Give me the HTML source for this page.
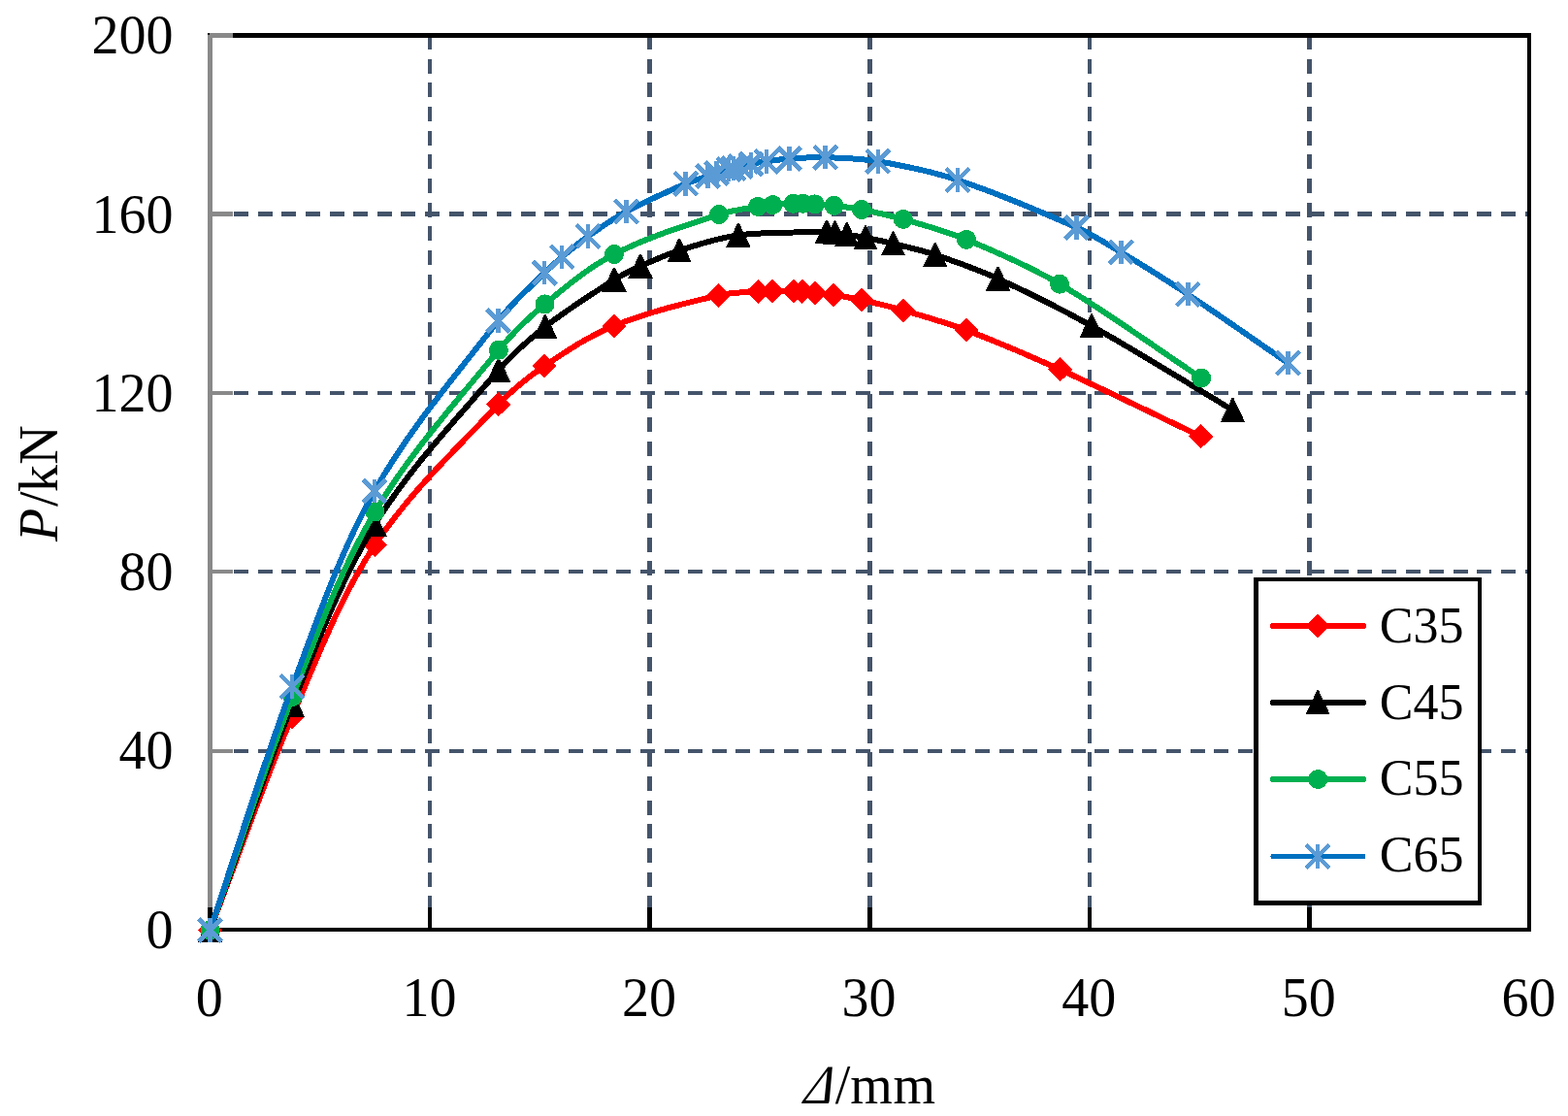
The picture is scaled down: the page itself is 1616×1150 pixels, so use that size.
<!DOCTYPE html>
<html lang="en"><head><meta charset="utf-8"><title>P-Δ curves</title>
<style>
html,body{margin:0;padding:0;background:#fff}
body{width:1616px;height:1150px;overflow:hidden;position:relative}
svg{display:block;position:absolute;left:0;top:0}
text{font-family:"Liberation Serif","DejaVu Serif",serif;font-size:56px;fill:#000}
.lg text{font-size:52px}
.ttl{position:absolute;font-family:"Liberation Serif","DejaVu Serif",serif;font-size:56px;line-height:56px;color:#000;white-space:nowrap;margin:0;padding:0}
.ttl span,.ttl i{display:inline-block}
</style>
</head><body>
<svg width="1616" height="1150" viewBox="0 0 1616 1150">
<defs><path id="m-dia" d="M0 -12.5L12.6 0L0 12.5L-12.6 0Z"/><path id="m-tri" d="M-.8 -12.6H.8L12.6 12.3H-12.6Z"/><circle id="m-cir" r="10"/><path id="m-star" d="M-11.9 -11.9L11.9 11.9M-11.9 11.9L11.9 -11.9M0 -12.2V12.2" fill="none" stroke-width="4.5"/></defs>
<rect width="1616" height="1150" fill="#fff"/>
<g stroke="#44546A" stroke-dasharray="15 9.645" fill="none" shape-rendering="crispEdges"><path d="M443 36.1V956" stroke-width="4"/><path d="M669.5 36.1V956" stroke-width="5"/><path d="M896.5 36.1V956" stroke-width="5"/><path d="M1123 36.1V956" stroke-width="4"/><path d="M1349.5 36.1V956" stroke-width="5"/><path d="M216.3 774H1574" stroke-width="4"/><path d="M216.3 589H1574" stroke-width="4"/><path d="M216.3 405H1574" stroke-width="4"/><path d="M216.3 220.5H1574" stroke-width="5"/></g>
<g shape-rendering="crispEdges"><rect x="214" y="34" width="1364" height="5" fill="#000"/><rect x="1574" y="34" width="4" height="926" fill="#000"/><rect x="214" y="956" width="1364" height="4" fill="#000"/><rect x="214" y="34" width="5" height="922" fill="#898989"/><rect x="214" y="34" width="26" height="5" fill="#898989"/><rect x="214" y="34" width="2" height="2" fill="#000"/><rect x="214" y="772" width="26" height="4" fill="#898989"/><rect x="214" y="587" width="26" height="4" fill="#898989"/><rect x="214" y="403" width="26" height="4" fill="#898989"/><rect x="214" y="218" width="26" height="5" fill="#898989"/><rect x="214" y="935" width="5" height="25" fill="#000"/><rect x="441" y="935" width="4" height="21" fill="#000"/><rect x="667" y="935" width="5" height="21" fill="#000"/><rect x="894" y="935" width="5" height="21" fill="#000"/><rect x="1121" y="935" width="4" height="21" fill="#000"/><rect x="1347" y="935" width="5" height="21" fill="#000"/></g>
<g shape-rendering="crispEdges">
<path d="M216.5 958.4C244.63 885.2 270.04 810.89 300.9 738.8C326.69 678.55 350.17 616.38 386.3 561.7C421.76 508.04 469.47 463.49 513.7 416.8C527.93 401.79 544.2 388.63 561.3 377C584.11 361.49 607.44 346.06 633 335.7C667.62 321.66 704.26 312.97 740.6 304.3C753.86 301.13 767.71 301.38 781.3 300.3C786.25 299.91 791.23 299.9 796.2 299.9C803.5 299.9 810.8 300.2 818.1 300.3C821 300.34 823.91 300.1 826.8 300.3C831.25 300.6 835.67 301.3 840.1 301.8C846.53 302.53 853 303.02 859.4 304C868.97 305.46 878.55 307.01 888 309.1C902.36 312.28 916.67 315.72 930.8 319.8C952.69 326.12 974.69 332.25 996 340.3C1028.68 352.64 1060.78 366.49 1092.6 380.9C1141.37 403 1189.33 426.83 1237.7 449.8" stroke="#FF0000" stroke-width="6" fill="none" stroke-linecap="round" stroke-linejoin="round"/>
<g fill="#FF0000" stroke="#FF0000" stroke-width="0"><use href="#m-dia" x="216.5" y="958.4"/><use href="#m-dia" x="300.9" y="738.8"/><use href="#m-dia" x="386.3" y="561.7"/><use href="#m-dia" x="513.7" y="416.8"/><use href="#m-dia" x="561.3" y="377"/><use href="#m-dia" x="633" y="335.7"/><use href="#m-dia" x="740.6" y="304.3"/><use href="#m-dia" x="781.3" y="300.3"/><use href="#m-dia" x="796.2" y="299.9"/><use href="#m-dia" x="818.1" y="300.3"/><use href="#m-dia" x="826.8" y="300.3"/><use href="#m-dia" x="840.1" y="301.8"/><use href="#m-dia" x="859.4" y="304"/><use href="#m-dia" x="888" y="309.1"/><use href="#m-dia" x="930.8" y="319.8"/><use href="#m-dia" x="996" y="340.3"/><use href="#m-dia" x="1092.6" y="380.9"/><use href="#m-dia" x="1237.7" y="449.8"/></g>
<path d="M216.5 958.4C244.77 881 270.29 802.54 301.3 726.2C326.9 663.2 350.51 598.59 386.2 540.7C421.89 482.81 469.42 433.03 513.8 381.5C528.1 364.9 544.64 350.2 561.9 336.7C584.49 319.04 608.81 303.69 633 288.3C641.55 282.86 650.75 278.46 660 274.3C673.18 268.38 686.42 262.45 700.2 258.1C720.16 251.8 740.23 245 761 242.4C791.15 238.63 821.72 239.86 852.1 239.1C854.91 239.03 857.71 239.54 860.5 239.9C864.61 240.44 868.7 241.14 872.8 241.8C879.24 242.84 885.7 243.77 892.1 245C901.63 246.83 911.17 248.69 920.6 251C935.08 254.55 949.66 257.86 963.8 262.6C985.67 269.94 1007.5 277.65 1028.5 287.2C1061.3 302.11 1093.56 318.31 1125 335.9C1174.27 363.47 1222 393.7 1270.5 422.6" stroke="#000" stroke-width="6" fill="none" stroke-linecap="round" stroke-linejoin="round"/>
<g fill="#000" stroke="#000" stroke-width="0"><use href="#m-tri" x="216.5" y="958.4"/><use href="#m-tri" x="301.3" y="726.2"/><use href="#m-tri" x="386.2" y="540.7"/><use href="#m-tri" x="513.8" y="381.5"/><use href="#m-tri" x="561.9" y="336.7"/><use href="#m-tri" x="633" y="288.3"/><use href="#m-tri" x="660" y="274.3"/><use href="#m-tri" x="700.2" y="258.1"/><use href="#m-tri" x="761" y="242.4"/><use href="#m-tri" x="852.1" y="239.1"/><use href="#m-tri" x="860.5" y="239.9"/><use href="#m-tri" x="872.8" y="241.8"/><use href="#m-tri" x="892.1" y="245"/><use href="#m-tri" x="920.6" y="251"/><use href="#m-tri" x="963.8" y="262.6"/><use href="#m-tri" x="1028.5" y="287.2"/><use href="#m-tri" x="1125" y="335.9"/><use href="#m-tri" x="1270.5" y="422.6"/></g>
<path d="M216.5 958.4C244.83 878.27 270.32 797.07 301.5 718C327 653.33 350.87 587.25 386.4 527.5C422.15 467.37 469.61 414.95 513.9 360.8C528.08 343.47 544.27 327.7 561.5 313.4C584.09 294.66 606.9 275.43 633 262C667.24 244.38 704.45 233.13 741 221C753.91 216.72 767.61 215.29 781 212.9C786.09 211.99 791.25 211.54 796.4 211.1C803.42 210.5 810.46 210.1 817.5 209.8C820.8 209.66 824.1 209.71 827.4 209.8C831.54 209.91 835.67 210.13 839.8 210.4C846.4 210.83 853.03 211.14 859.6 211.9C869.1 213 878.61 214.15 888 216C902.37 218.83 916.72 221.87 930.8 225.9C952.75 232.18 974.9 238.16 996 246.9C1028.79 260.48 1061.53 274.68 1092.1 292.7C1142.42 322.36 1189.43 357.3 1238.1 389.6" stroke="#00B050" stroke-width="6" fill="none" stroke-linecap="round" stroke-linejoin="round"/>
<g fill="#00B050" stroke="#00B050" stroke-width="0"><use href="#m-cir" x="216.5" y="958.4"/><use href="#m-cir" x="301.5" y="718"/><use href="#m-cir" x="386.4" y="527.5"/><use href="#m-cir" x="513.9" y="360.8"/><use href="#m-cir" x="561.5" y="313.4"/><use href="#m-cir" x="633" y="262"/><use href="#m-cir" x="741" y="221"/><use href="#m-cir" x="781" y="212.9"/><use href="#m-cir" x="796.4" y="211.1"/><use href="#m-cir" x="817.5" y="209.8"/><use href="#m-cir" x="827.4" y="209.8"/><use href="#m-cir" x="839.8" y="210.4"/><use href="#m-cir" x="859.6" y="211.9"/><use href="#m-cir" x="888" y="216"/><use href="#m-cir" x="930.8" y="225.9"/><use href="#m-cir" x="996" y="246.9"/><use href="#m-cir" x="1092.1" y="292.7"/><use href="#m-cir" x="1238.1" y="389.6"/></g>
<path d="M216.5 958.4C244.73 874.8 270.25 790.23 301.2 707.6C326.78 639.3 350.23 569.46 386 505.9C421.47 442.89 469.05 387.44 513.5 330.4C527.53 312.4 544.95 297.32 561.1 281.2C566.86 275.45 572.96 270.03 579.2 264.8C588 257.42 596.81 250.02 606.2 243.4C618.97 234.4 631.84 225.41 645.6 218C665.41 207.33 686.06 198.27 706.7 189.3C714.1 186.09 721.96 184.09 729.6 181.5C732.6 180.49 735.6 179.5 738.6 178.5C742.73 177.13 746.82 175.6 751 174.4C752.63 173.93 754.36 173.91 756 173.5C758.36 172.91 760.64 172 763 171.4C766.64 170.47 770.31 169.6 774 168.9C779.31 167.9 784.65 167.03 790 166.3C797.85 165.23 805.7 164.03 813.6 163.5C825.95 162.67 838.33 161.82 850.7 162.2C868.78 162.75 886.97 163.25 904.8 166.3C932.54 171.04 960.3 176.61 987 185.5C1028.76 199.4 1069.35 216.71 1109.6 234.5C1125.54 241.55 1140.35 250.94 1155.3 259.9C1178.6 273.88 1201.66 288.28 1224.3 303.3C1259.1 326.39 1293.17 350.57 1327.6 374.2" stroke="#0070C0" stroke-width="6" fill="none" stroke-linecap="round" stroke-linejoin="round"/>
<g fill="#5B9BD5" stroke="#5B9BD5" stroke-width="0"><use href="#m-star" x="216.5" y="958.4"/><use href="#m-star" x="301.2" y="707.6"/><use href="#m-star" x="386" y="505.9"/><use href="#m-star" x="513.5" y="330.4"/><use href="#m-star" x="561.1" y="281.2"/><use href="#m-star" x="579.2" y="264.8"/><use href="#m-star" x="606.2" y="243.4"/><use href="#m-star" x="645.6" y="218"/><use href="#m-star" x="706.7" y="189.3"/><use href="#m-star" x="729.6" y="181.5"/><use href="#m-star" x="738.6" y="178.5"/><use href="#m-star" x="751" y="174.4"/><use href="#m-star" x="756" y="173.5"/><use href="#m-star" x="763" y="171.4"/><use href="#m-star" x="774" y="168.9"/><use href="#m-star" x="790" y="166.3"/><use href="#m-star" x="813.6" y="163.5"/><use href="#m-star" x="850.7" y="162.2"/><use href="#m-star" x="904.8" y="166.3"/><use href="#m-star" x="987" y="185.5"/><use href="#m-star" x="1109.6" y="234.5"/><use href="#m-star" x="1155.3" y="259.9"/><use href="#m-star" x="1224.3" y="303.3"/><use href="#m-star" x="1327.6" y="374.2"/></g>
</g>
<g class="lg">
<g shape-rendering="crispEdges">
<rect x="1292" y="595" width="235" height="338" fill="#000"/>
<rect x="1297" y="599" width="226" height="329" fill="#fff"/>
<path d="M1312 645H1405" stroke="#FF0000" stroke-width="6" stroke-linecap="round" fill="none"/>
<g fill="#FF0000" stroke="#FF0000" stroke-width="0"><use href="#m-dia" x="1358.2" y="645"/></g>
<path d="M1312 724H1405" stroke="#000" stroke-width="6" stroke-linecap="round" fill="none"/>
<g fill="#000" stroke="#000" stroke-width="0"><use href="#m-tri" x="1358.2" y="724"/></g>
<path d="M1312 803H1405" stroke="#00B050" stroke-width="6" stroke-linecap="round" fill="none"/>
<g fill="#00B050" stroke="#00B050" stroke-width="0"><use href="#m-cir" x="1358.2" y="803"/></g>
<path d="M1312 882.5H1405" stroke="#0070C0" stroke-width="5" stroke-linecap="round" fill="none"/>
<g fill="#5B9BD5" stroke="#5B9BD5" stroke-width="0"><use href="#m-star" x="1358.2" y="882.5"/></g>
</g>
<text x="1421.8" y="661.6">C35</text>
<text x="1421.8" y="740.5">C45</text>
<text x="1421.8" y="819.3">C55</text>
<text x="1421.8" y="898.1">C65</text>
</g>
<text x="178.5" y="976.75" text-anchor="end">0</text>
<text x="178.5" y="792.45" text-anchor="end">40</text>
<text x="178.5" y="608.15" text-anchor="end">80</text>
<text x="178.5" y="423.85" text-anchor="end">120</text>
<text x="178.5" y="239.55" text-anchor="end">160</text>
<text x="178.5" y="55.25" text-anchor="end">200</text>
<text x="215.8" y="1047.1" text-anchor="middle">0</text>
<text x="442.4" y="1047.1" text-anchor="middle">10</text>
<text x="669" y="1047.1" text-anchor="middle">20</text>
<text x="895.6" y="1047.1" text-anchor="middle">30</text>
<text x="1122.2" y="1047.1" text-anchor="middle">40</text>
<text x="1348.8" y="1047.1" text-anchor="middle">50</text>
<text x="1575.4" y="1047.1" text-anchor="middle">60</text>
</svg>
<div class="ttl" style="left:824.2px;top:1089.8px"><i style="font-style:normal;transform-origin:0 46.9px;transform:skewX(-23deg) scale(.878,1.016)">Δ</i><span style="margin-left:0.59px">/</span><span style="letter-spacing:.54px">mm</span></div>
<div class="ttl" style="left:59.1px;top:510.9px;transform-origin:0 46.9px;transform:rotate(-90deg)"><i>P</i><span style="margin-left:1.7px">/</span><span style="margin-left:-.56px">k</span><span style="margin-left:.3px">N</span></div>
</body></html>
